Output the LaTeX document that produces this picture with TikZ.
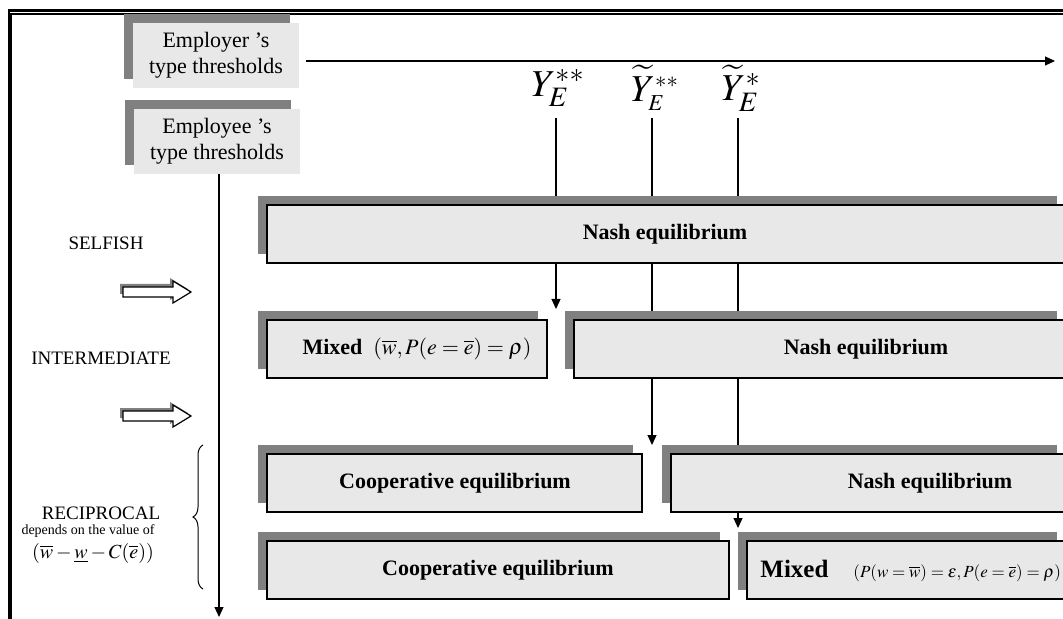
\documentclass[tikz,border=0pt]{standalone}
\usepackage{mathptmx}
\usepackage[no-math]{fontspec}
\setmainfont{Liberation Serif}
\usetikzlibrary{arrows.meta,shadows,fit,decorations.pathreplacing}

\definecolor{shadowgray}{RGB}{128,128,128}
\definecolor{boxgray}{RGB}{232,232,232}

\tikzset{
  grayshadow/.style={drop shadow={shadow xshift=-4.5pt,shadow yshift=4.5pt,opacity=1,fill=shadowgray}},
  tagbox/.style={fill=boxgray,grayshadow,align=center,minimum width=83pt,minimum height=32.5pt,
    font=\fontsize{11}{13}\selectfont},
  eqbox/.style={draw,fill=boxgray,line width=0.6pt,inner sep=0pt,grayshadow},
  eqtext/.style={font=\fontsize{11}{13}\selectfont\bfseries},
  typetext/.style={font=\fontsize{9.5}{11}\selectfont},
  ylabel/.style={font=\fontsize{19}{22}\selectfont,inner sep=0pt},
  thr/.style={-{Triangle[length=5pt,width=4.5pt]},line width=0.6pt},
  hollow/.style={draw,fill=white,line width=0.6pt,
    drop shadow={shadow xshift=-1.5pt,shadow yshift=1.5pt,opacity=1,fill=shadowgray}}
}

\begin{document}
\begin{tikzpicture}[x=0.5pt,y=-0.5pt]
\useasboundingbox (0,0) rectangle (1063,619);

% frame
\draw[line width=1.1pt] (9,640) -- (9,10.5) -- (1080,10.5);
\draw[line width=0.8pt] (11,640) -- (11,14) -- (1080,14);

% thresholds
\node[tagbox] (employer) at (216,55.5) {Employer 's\\type thresholds};
\node[tagbox] (employee) at (217,141.5) {Employee 's\\type thresholds};

\coordinate (axisend) at (1055,61);
\draw[thr,shorten <=3.5pt] (employer.east |- axisend) -- (axisend);
\coordinate (typeend) at (219,617);
\draw[thr] (employee.south -| typeend) -- (typeend);

\node[ylabel] (y1) at (558,88) {$Y_E^{**}$};
\node[ylabel] (y2) at (655,88) {$\widetilde{Y}_{\scriptscriptstyle E}^{\scriptscriptstyle **}$};
\node[ylabel] (y3) at (741,88) {$\widetilde{Y}_E^{*}$};

\coordinate (ystart) at (0,118);
\coordinate (a1) at (556,309);
\coordinate (a2) at (652,445);
\coordinate (a3) at (738,528);
\draw[thr] (a1 |- ystart) -- (a1);
\draw[thr] (a2 |- ystart) -- (a2);
\draw[thr] (a3 |- ystart) -- (a3);

% equilibria
\node[eqbox,fit={(267,205) (1066,263)}] (nashA) {};
\node[eqtext] (nashAt) at (665,234) {Nash equilibrium};

\node[eqbox,fit={(267,320) (547,378)}] (mixedA) {};
\node[eqtext] (mixedAt) at (417,349) {Mixed\enspace\mdseries$(\overline{w},P(e=\overline{e})=\rho)$};
\node[eqbox,fit={(574,320) (1066,378)}] (nashB) {};
\node[eqtext] (nashBt) at (866,349) {Nash equilibrium};

\node[eqbox,fit={(267,454) (642,512)}] (coopA) {};
\node[eqtext] (coopAt) at (455,483) {Cooperative equilibrium};
\node[eqbox,fit={(671,454) (1066,512)}] (nashC) {};
\node[eqtext] (nashCt) at (930,483) {Nash equilibrium};

\node[eqbox,fit={(267,541) (729,599)}] (coopB) {};
\node[eqtext] (coopBt) at (498,570) {Cooperative equilibrium};
\node[eqbox,fit={(747,541) (1066,599)}] (mixedB) {};
\node[eqtext,font=\fontsize{12.5}{14}\selectfont\bfseries,anchor=west,inner sep=0pt] (mixedBt) at (760,571)
  {Mixed\quad{\fontsize{8.5}{10}\selectfont\mdseries$(P(w=\overline{w})=\varepsilon,P(e=\overline{e})=\rho)$}};

% employee types
\node[typetext] (selfish) at (106,243) {SELFISH};
\node[typetext] (inter) at (101,358) {INTERMEDIATE};
\node[typetext] (recip) at (101,513) {RECIPROCAL};
\node[font=\fontsize{7}{8}\selectfont] (depends) at (88,531) {depends on the value of};
\node[font=\fontsize{10}{12}\selectfont] (diff) at (93,553) {$(\overline{w}-\underline{w}-C(\overline{e}))$};

\foreach \ya in {292,416}
  \path[hollow] (123,\ya-5) -- (173,\ya-5) -- (173,\ya-11) -- (191,\ya) -- (173,\ya+11) -- (173,\ya+5) -- (123,\ya+5) -- cycle;

\draw[line width=0.5pt,decorate,decoration={brace,amplitude=5pt}] (203,589) -- (203,445);
\end{tikzpicture}
\end{document}
